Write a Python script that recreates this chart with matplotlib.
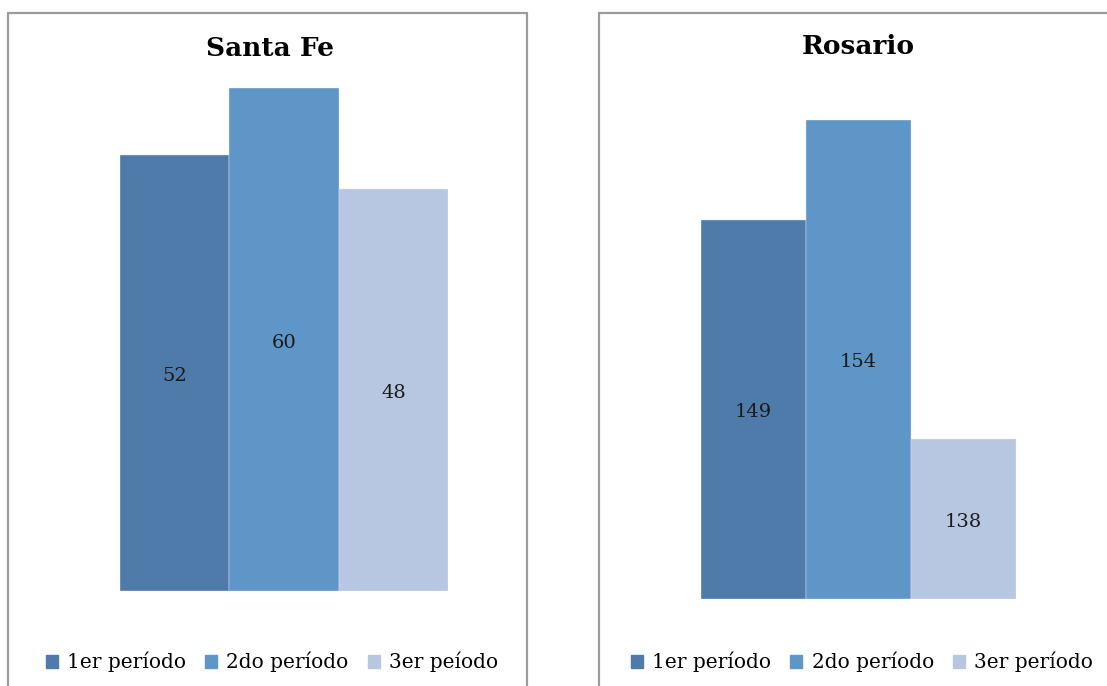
import matplotlib
matplotlib.use("Agg")
import matplotlib.pyplot as plt
from matplotlib.patches import Rectangle

W, H = 1107, 686

titles = ["Santa Fe", "Rosario"]
santa_fe_values = [52, 60, 48]
rosario_values = [149, 154, 138]
santa_fe_labels = ["1er período", "2do período", "3er peíodo"]
rosario_labels = ["1er período", "2do período", "3er período"]
colors = ["#4F7BAB", "#5F96C8", "#B8C7E1"]

FONT = "DejaVu Serif"

fig = plt.figure(figsize=(W / 100, H / 100), dpi=100)
fig.patch.set_facecolor("white")


def fx(px):
    return px / W


def fy(py):
    return 1 - py / H


# panel borders
for (x0, x1) in [(8, 527), (599, 1120)]:
    fig.patches.append(Rectangle((fx(x0), fy(720)), fx(x1) - fx(x0), fy(13) - fy(720),
                                 transform=fig.transFigure, fill=False,
                                 edgecolor="#9B9B9B", linewidth=1.6, zorder=0))

panels = [
    dict(title=titles[0], values=santa_fe_values, labels=santa_fe_labels,
         ax_px=(120, 448, 88, 591), ylim=(0, 60), title_xy=(270, 48),
         leg_center=(272, 662)),
    dict(title=titles[1], values=rosario_values, labels=rosario_labels,
         ax_px=(701, 1016, 120, 599), ylim=(130, 154), title_xy=(858, 46),
         leg_center=(862, 662)),
]

for p in panels:
    l, r, t, b = p["ax_px"]
    ax = fig.add_axes([fx(l), fy(b), fx(r) - fx(l), fy(t) - fy(b)])
    xs = list(range(len(p["values"])))
    base = p["ylim"][0]
    heights = [v - base for v in p["values"]]
    ax.bar(xs, heights, bottom=base, width=1.0, color=colors,
           edgecolor="#DCE6F2", linewidth=0.3)
    ax.set_xlim(-0.5, len(xs) - 0.5)
    ax.set_ylim(*p["ylim"])
    ax.axis("off")
    span = p["ylim"][1] - p["ylim"][0]
    for x, v in zip(xs, p["values"]):
        ax.text(x, (base + v) / 2 - span * 0.006, str(v), ha="center", va="center",
                fontsize=14, family=FONT, color="#1a1a1a")
    fig.text(fx(p["title_xy"][0]), fy(p["title_xy"][1]), p["title"],
             ha="center", va="center", fontsize=19, fontweight="bold",
             family=FONT, color="black")
    handles = [Rectangle((0, 0), 1, 1, color=c) for c in colors]
    fig.legend(handles, p["labels"], loc="center",
               bbox_to_anchor=(fx(p["leg_center"][0]), fy(p["leg_center"][1])),
               ncol=3, frameon=False, handlelength=0.6, handleheight=0.6,
               handletextpad=0.45, columnspacing=0.95,
               prop={"family": FONT, "size": 14.5})

fig.savefig("out.png", dpi=100, facecolor="white")
